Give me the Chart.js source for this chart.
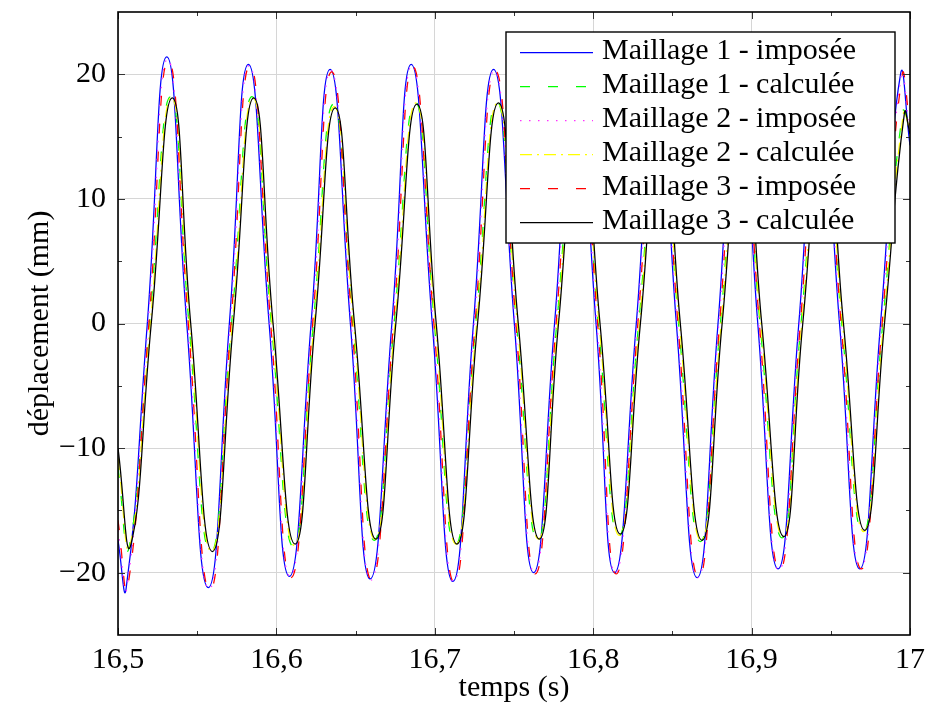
<!DOCTYPE html>
<html><head><meta charset="utf-8">
<script src="https://cdn.jsdelivr.net/npm/chart.js@4/dist/chart.umd.min.js"></script>
<style>html,body{margin:0;padding:0;background:#fff}</style>
</head><body>
<canvas id="c" width="927" height="713" style="display:block;width:927px;height:713px"></canvas>
<script>
// ---- tick labels / ticks ----
const xMajorTicks = [16.5, 16.6, 16.7, 16.8, 16.9, 17];
const xMinorTicks = [16.55, 16.65, 16.75, 16.85, 16.95];
const yMajorTicks = [-20, -10, 0, 10, 20];
const yMinorTicks = [-15, -5, 5, 15];
const xTitle = 'temps (s)';
const yTitle = 'déplacement (mm)';
const seriesLabels = ['Maillage 1 - imposée', 'Maillage 1 - calculée', 'Maillage 2 - imposée',
                      'Maillage 2 - calculée', 'Maillage 3 - imposée', 'Maillage 3 - calculée'];

// ---- Maillage 1 - imposée (blue) ----
const tM1imp = [16.5, 16.5051, 16.5185, 16.5308, 16.5434, 16.5570, 16.5703, 16.5823, 16.5954, 16.6082, 16.6219, 16.6339, 16.6467, 16.6592, 16.6729, 16.6851, 16.6984, 16.7114, 16.7244, 16.7371, 16.7502, 16.7624, 16.7756, 16.7884, 16.8018, 16.8135, 16.8272, 16.8399, 16.8525, 16.8656, 16.8788, 16.8913, 16.9039, 16.9167, 16.9298, 16.9425, 16.9555, 16.9683, 16.9814, 16.9940, 17.0];
const vM1imp = [-17.4, -21.3, 0, 21.4, 0, -21.2, 0, 20.8, 0, -20.3, 0, 20.4, 0, -20.5, 0, 20.8, 0, -20.7, 0, 20.4, 0, -20.0, 0, 20.3, 0, -20.0, 0, 20.5, 0, -20.4, 0, 20.3, 0, -19.7, 0, 20.0, 0, -19.7, 0, 20.0, 14.3];

// ---- Maillage 2 - imposée (magenta) ----
const tM2imp = [16.5, 16.5056, 16.5190, 16.5313, 16.5439, 16.5575, 16.5708, 16.5828, 16.5959, 16.6087, 16.6224, 16.6344, 16.6472, 16.6597, 16.6734, 16.6856, 16.6989, 16.7119, 16.7249, 16.7376, 16.7507, 16.7629, 16.7761, 16.7889, 16.8023, 16.8140, 16.8277, 16.8404, 16.8530, 16.8661, 16.8793, 16.8918, 16.9044, 16.9172, 16.9303, 16.9430, 16.9560, 16.9688, 16.9819, 16.9945, 17.0];
const vM2imp = [-16.6, -21.2, 0, 21.2, 0, -21.3, 0, 20.7, 0, -20.3, 0, 20.3, 0, -20.6, 0, 20.7, 0, -20.7, 0, 20.3, 0, -20.0, 0, 20.2, 0, -20.0, 0, 20.4, 0, -20.4, 0, 20.2, 0, -19.8, 0, 19.9, 0, -19.7, 0, 19.9, 15.1];

// ---- Maillage 3 - imposée (red) ----
const tM3imp = [16.5, 16.5061, 16.5195, 16.5318, 16.5444, 16.5580, 16.5713, 16.5833, 16.5964, 16.6092, 16.6229, 16.6349, 16.6477, 16.6602, 16.6739, 16.6861, 16.6994, 16.7124, 16.7254, 16.7381, 16.7512, 16.7634, 16.7766, 16.7894, 16.8028, 16.8145, 16.8282, 16.8409, 16.8535, 16.8666, 16.8798, 16.8923, 16.9049, 16.9177, 16.9308, 16.9435, 16.9565, 16.9693, 16.9824, 16.9950, 17.0];
const vM3imp = [-15.8, -21.2, 0, 21.1, 0, -21.4, 0, 20.7, 0, -20.4, 0, 20.2, 0, -20.6, 0, 20.6, 0, -20.8, 0, 20.3, 0, -20.1, 0, 20.2, 0, -20.1, 0, 20.4, 0, -20.4, 0, 20.2, 0, -19.8, 0, 19.9, 0, -19.7, 0, 19.9, 15.9];

// ---- Maillage 1 - calculée (green) ----
const tM1calc = [16.5, 16.5069, 16.5199, 16.5332, 16.5448, 16.5585, 16.5717, 16.5846, 16.5968, 16.6107, 16.6233, 16.6360, 16.6482, 16.6617, 16.6743, 16.6876, 16.6998, 16.7129, 16.7259, 16.7391, 16.7516, 16.7649, 16.7770, 16.7904, 16.8032, 16.8160, 16.8287, 16.8419, 16.8539, 16.8676, 16.8803, 16.8934, 16.9053, 16.9192, 16.9312, 16.9448, 16.9569, 16.9703, 16.9828, 16.9954, 17.0];
const vM1calc = [-11.6, -18.0, 0, 18.2, 0, -18.4, 0, 18.2, 0, -17.9, 0, 17.6, 0, -17.4, 0, 17.8, 0, -17.8, 0, 17.8, 0, -17.4, 0, 17.5, 0, -17.1, 0, 17.4, 0, -17.5, 0, 17.3, 0, -17.2, 0, 17.0, 0, -16.8, 0, 17.0, 15.9];

// ---- Maillage 2 - calculée (yellow) ----
const tM2calc = [16.5, 16.5074, 16.5204, 16.5337, 16.5453, 16.5590, 16.5722, 16.5851, 16.5973, 16.6112, 16.6238, 16.6365, 16.6487, 16.6622, 16.6748, 16.6881, 16.7003, 16.7134, 16.7264, 16.7396, 16.7521, 16.7654, 16.7775, 16.7909, 16.8037, 16.8165, 16.8292, 16.8424, 16.8544, 16.8681, 16.8808, 16.8939, 16.9058, 16.9197, 16.9317, 16.9453, 16.9574, 16.9708, 16.9833, 16.9959, 17.0];
const vM2calc = [-10.8, -17.9, 0, 18.1, 0, -18.3, 0, 18.1, 0, -17.8, 0, 17.4, 0, -17.3, 0, 17.7, 0, -17.7, 0, 17.7, 0, -17.3, 0, 17.4, 0, -17.0, 0, 17.3, 0, -17.4, 0, 17.2, 0, -17.1, 0, 16.9, 0, -16.7, 0, 16.9, 15.5];

// ---- Maillage 3 - calculée (black) ----
const tM3calc = [16.5, 16.5080, 16.5210, 16.5343, 16.5459, 16.5596, 16.5728, 16.5857, 16.5979, 16.6118, 16.6244, 16.6371, 16.6493, 16.6628, 16.6754, 16.6887, 16.7009, 16.7140, 16.7270, 16.7402, 16.7527, 16.7660, 16.7781, 16.7915, 16.8043, 16.8171, 16.8298, 16.8430, 16.8550, 16.8687, 16.8814, 16.8945, 16.9064, 16.9203, 16.9323, 16.9459, 16.9580, 16.9714, 16.9839, 16.9965, 17.0];
const vM3calc = [-10.0, -17.8, 0, 18.1, 0, -18.3, 0, 18.1, 0, -17.7, 0, 17.3, 0, -17.3, 0, 17.6, 0, -17.7, 0, 17.7, 0, -17.3, 0, 17.4, 0, -16.9, 0, 17.3, 0, -17.4, 0, 17.2, 0, -17.1, 0, 16.9, 0, -16.6, 0, 16.9, 15.2];

const FONT = 'Liberation Serif';
const FS = 30;
const pts = (t, v) => t.map((x, i) => ({x: x, y: v[i]}));

function ds(label, t, v, color, dash, order, width) {
  return {label, data: pts(t, v), borderColor: color, borderDash: dash, borderWidth: width || 1.25,
          pointRadius: 0, tension: 0.5, fill: false, order: order, clip: 0};
}

const datasets = [
  ds(seriesLabels[0], tM1imp, vM1imp, '#0000ff', [], 6),
  ds(seriesLabels[1], tM1calc, vM1calc, '#00ff00', [10, 18], 5),
  ds(seriesLabels[2], tM2imp, vM2imp, '#ff33ff', [1.5, 7.5], 4),
  ds(seriesLabels[3], tM2calc, vM2calc, '#ffff00', [12, 5, 2, 5], 3),
  ds(seriesLabels[4], tM3imp, vM3imp, '#ff0000', [10, 18], 2),
  ds(seriesLabels[5], tM3calc, vM3calc, '#000000', [], 1),
];

const framePlugin = {
  id: 'frame',
  afterDraw(chart) {
    const {ctx, chartArea: a, scales: {x, y}} = chart;
    ctx.save();
    // inner tick marks
    ctx.strokeStyle = '#333';
    ctx.lineWidth = 1;
    const tick = (x1, y1, x2, y2) => { ctx.beginPath(); ctx.moveTo(x1, y1); ctx.lineTo(x2, y2); ctx.stroke(); };
    xMajorTicks.concat(xMinorTicks).forEach(v => {
      const px = Math.round(x.getPixelForValue(v)) + 0.5;
      const L = xMajorTicks.includes(v) ? 7 : 4;
      tick(px, a.bottom, px, a.bottom - L);
      tick(px, a.top, px, a.top + L);
    });
    yMajorTicks.concat(yMinorTicks).forEach(v => {
      const py = Math.round(y.getPixelForValue(v)) + 0.5;
      const L = yMajorTicks.includes(v) ? 7 : 4;
      tick(a.left, py, a.left + L, py);
      tick(a.right, py, a.right - L, py);
    });
    // frame
    ctx.strokeStyle = '#000';
    ctx.lineWidth = 1.6;
    ctx.strokeRect(a.left, a.top, a.right - a.left, a.bottom - a.top);

    // legend
    const lx = 506, ly = 32, lw = 389, lh = 211;
    ctx.fillStyle = '#fff';
    ctx.fillRect(lx, ly, lw, lh);
    ctx.lineWidth = 1.4;
    ctx.strokeStyle = '#000';
    ctx.strokeRect(lx, ly, lw, lh);
    ctx.font = FS + 'px "' + FONT + '"';
    ctx.textBaseline = 'middle';
    ctx.textAlign = 'left';
    chart.data.datasets.forEach((d, i) => {
      const cy = ly + 20.5 + i * 34;
      ctx.save();
      ctx.strokeStyle = d.borderColor;
      ctx.lineWidth = d.borderWidth;
      ctx.setLineDash(d.borderDash || []);
      ctx.beginPath(); ctx.moveTo(520, cy); ctx.lineTo(593, cy); ctx.stroke();
      ctx.restore();
      ctx.fillStyle = '#000';
      ctx.fillText(d.label, 602, cy - 1);
    });
    ctx.restore();
  }
};

const fmtX = v => String(Math.round(v * 10) / 10).replace('.', ',');
const fmtY = v => (v < 0 ? '\u2212' + Math.abs(v) : String(v));

new Chart(document.getElementById('c'), {
  type: 'line',
  data: {datasets},
  plugins: [framePlugin],
  options: {
    responsive: false,
    animation: false,
    devicePixelRatio: 1,
    layout: {padding: {top: 12, right: 17, left: 0, bottom: 0}},
    plugins: {legend: {display: false}, tooltip: {enabled: false}},
    scales: {
      x: {
        type: 'linear', min: 16.5, max: 17,
        afterBuildTicks: s => { s.ticks = xMajorTicks.map(v => ({value: v})); },
        afterFit: s => { s.height = 78; s.paddingLeft = 0; s.paddingRight = 0; },
        ticks: {callback: fmtX, color: '#000', font: {family: FONT, size: FS}, padding: 7, maxRotation: 0, autoSkip: false},
        grid: {color: '#d6d6d6', lineWidth: 1, drawTicks: false},
        border: {display: false},
        title: {display: true, text: xTitle, color: '#000', font: {family: FONT, size: FS}, padding: {top: 0, bottom: 7}}
      },
      y: {
        type: 'linear', min: -25, max: 25,
        afterBuildTicks: s => { s.ticks = yMajorTicks.map(v => ({value: v})); },
        afterFit: s => { s.width = 118; s.paddingTop = 0; s.paddingBottom = 0; },
        ticks: {callback: fmtY, color: '#000', font: {family: FONT, size: FS}, padding: 12},
        grid: {color: '#d6d6d6', lineWidth: 1, drawTicks: false},
        border: {display: false},
        title: {display: true, text: yTitle, color: '#000', font: {family: FONT, size: FS}, padding: {top: 22, bottom: 0}}
      }
    }
  }
});
</script>
</body></html>
